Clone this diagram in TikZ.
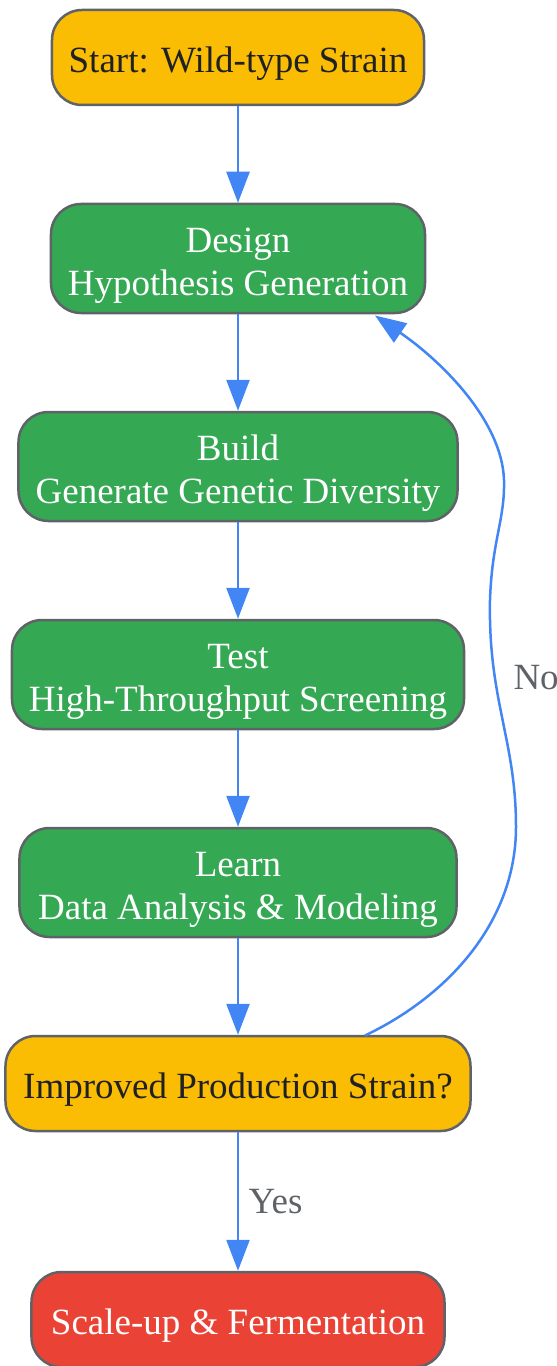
\documentclass[tikz,border=0pt]{standalone}
\usepackage{fontspec}
\setmainfont{Liberation Serif}
\usetikzlibrary{arrows.meta}
\definecolor{cyellow}{HTML}{FBBC04}
\definecolor{cgreen}{HTML}{34A853}
\definecolor{cred}{HTML}{EA4335}
\definecolor{cblue}{HTML}{4285F4}
\definecolor{cborder}{HTML}{5F6368}
\definecolor{cdark}{HTML}{202124}
\begin{document}
\begin{tikzpicture}[x=1bp,y=-1bp,
  box/.style={draw=cborder,line width=2.5bp,rounded corners=30bp,inner sep=0pt},
  ybox/.style={box,fill=cyellow},
  gbox/.style={box,fill=cgreen},
  rbox/.style={box,fill=cred},
  txt/.style={align=center,inner sep=0pt,font=\fontsize{37bp}{43bp}\selectfont},
  dtxt/.style={txt,text=cdark},
  wtxt/.style={txt,text=white},
  arr/.style={draw=cblue,line width=2.5bp,-{Triangle[length=31bp,width=23bp]}},
  lbl/.style={text=cborder,font=\fontsize{37bp}{43bp}\selectfont}]
\useasboundingbox (0,0) rectangle (557,1366);
\clip (0,0) rectangle (557,1366);
\node[ybox,minimum width=372bp,minimum height=95bp] (start) at (238,57.5) {};
\node[gbox,minimum width=374bp,minimum height=109bp] (design) at (238,258.5) {};
\node[gbox,minimum width=439bp,minimum height=109bp] (build) at (238,466.5) {};
\node[gbox,minimum width=452bp,minimum height=109bp] (test) at (238,674.5) {};
\node[gbox,minimum width=437bp,minimum height=109bp] (learn) at (238,882.5) {};
\node[ybox,minimum width=465bp,minimum height=95bp] (imp) at (238,1083.5) {};
\node[rbox,minimum width=413bp,minimum height=95bp] (scale) at (238,1319.5) {};
\node[dtxt] (startT) at ([yshift=-6bp]start.center) {Start: Wild-type Strain};
\node[wtxt] (designT) at ([yshift=-7bp]design.center) {Design\\Hypothesis Generation};
\node[wtxt] (buildT) at ([yshift=-7bp]build.center) {Build\\Generate Genetic Diversity};
\node[wtxt] (testT) at ([yshift=-7bp]test.center) {Test\\High-Throughput Screening};
\node[wtxt] (learnT) at ([yshift=-7bp]learn.center) {Learn\\Data Analysis \& Modeling};
\node[dtxt] (impT) at ([yshift=-6bp]imp.center) {Improved Production Strain?};
\node[wtxt] (scaleT) at ([yshift=-6bp]scale.center) {Scale-up \& Fermentation};
\draw[arr] (start) -- (design);
\draw[arr] (design) -- (build);
\draw[arr] (build) -- (test);
\draw[arr] (test) -- (learn);
\draw[arr] (learn) -- (imp);
\draw[arr] (imp) -- node[lbl,right=6bp] (yes) {Yes} (scale);
\coordinate (c0) at (365,1035.5);
\coordinate (c1) at (516,827);
\coordinate (c2) at (490,600);
\coordinate (c3) at (504,480);
\coordinate (c4) at (375,315.5);
\draw[arr] (c0) .. controls (450,995) and (516,920) .. (c1)
  .. controls (516,740) and (488,700) .. (c2)
  .. controls (492,540) and (505,520) .. (c3)
  .. controls (502,420) and (440,360) .. (c4);
\node[lbl,anchor=west] (no) at (510,678) {No};
\end{tikzpicture}
\end{document}
